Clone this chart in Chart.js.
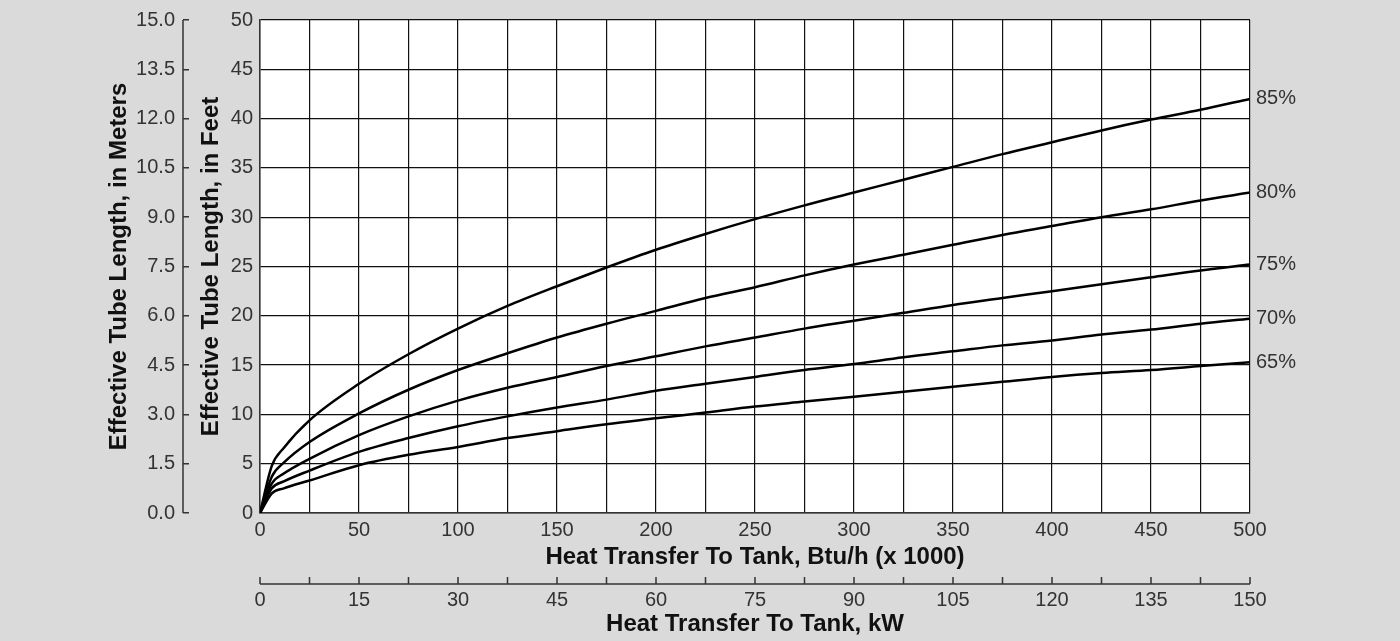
<!DOCTYPE html>
<html lang="en">
<head>
    <title>Effective Tube Length</title>
    <meta charset="utf-8">
    <script src="https://cdn.jsdelivr.net/npm/chart.js@4.4.1/dist/chart.umd.min.js"></script>
    <style>
        html, body { margin: 0; padding: 0; background: #dadada; }
        .chart-container { width: 1400px; height: 641px; }
    </style>
</head>
<body>
<div class="chart-container">
    <canvas id="tubes"></canvas>
</div>
<script>
    // heat transfer to tank, Btu/h (x 1000)
    const btu = [0, 6, 12, 25, 50, 75, 100, 125, 150, 175, 200, 225, 250, 275, 300, 325, 350, 375, 400, 425, 450, 475, 500];

    // effective tube length in feet, one list per efficiency curve
    const eff85 = [0, 4.8, 6.6, 9.4, 13.1, 16.1, 18.7, 21.0, 23.0, 24.9, 26.7, 28.3, 29.8, 31.2, 32.5, 33.8, 35.1, 36.4, 37.6, 38.8, 39.9, 40.9, 42.0];
    const eff80 = [0, 3.7, 5.1, 7.2, 10.1, 12.5, 14.5, 16.2, 17.8, 19.2, 20.5, 21.8, 22.9, 24.1, 25.2, 26.2, 27.2, 28.2, 29.1, 30.0, 30.8, 31.7, 32.5];
    const eff75 = [0, 3.0, 4.0, 5.5, 7.9, 9.8, 11.4, 12.7, 13.8, 14.9, 15.9, 16.9, 17.8, 18.7, 19.5, 20.3, 21.1, 21.8, 22.5, 23.2, 23.9, 24.6, 25.2];
    const eff70 = [0, 2.5, 3.2, 4.3, 6.2, 7.6, 8.8, 9.8, 10.7, 11.5, 12.4, 13.1, 13.8, 14.5, 15.1, 15.8, 16.4, 17.0, 17.5, 18.1, 18.6, 19.2, 19.7];
    const eff65 = [0, 2.0, 2.5, 3.3, 4.85, 5.9, 6.7, 7.6, 8.3, 9.0, 9.6, 10.2, 10.8, 11.3, 11.8, 12.3, 12.8, 13.3, 13.8, 14.2, 14.5, 14.9, 15.3];

    const curveLabels = ['85%', '80%', '75%', '70%', '65%'];
    const curves = [eff85, eff80, eff75, eff70, eff65];

    const fontFamily = "'Liberation Sans', Arial, Helvetica, sans-serif";
    const tickFont = { family: fontFamily, size: 20 };
    const titleFont = { family: fontFamily, size: 24, weight: 'bold' };
    const tickColor = '#333';

    const isMultiple = (v, step) => Math.abs(v / step - Math.round(v / step)) < 1e-6;

    // white plot area behind the grid
    const plotBg = {
        id: 'plotBg',
        beforeDraw(chart) {
            const a = chart.chartArea;
            chart.ctx.save();
            chart.ctx.fillStyle = '#fff';
            chart.ctx.fillRect(a.left, a.top, a.right - a.left, a.bottom - a.top);
            chart.ctx.restore();
        }
    };

    // kW axis line with ticks pointing up, meters axis line left of its ticks, % labels at curve ends
    const extras = {
        id: 'extras',
        afterDraw(chart) {
            const ctx = chart.ctx;
            const kw = chart.scales.x2;
            const m = chart.scales.y2;
            ctx.save();
            ctx.strokeStyle = '#333';
            ctx.lineWidth = 1.5;

            ctx.beginPath();
            ctx.moveTo(kw.left, kw.top);
            ctx.lineTo(kw.right, kw.top);
            kw.ticks.forEach(t => {
                const px = kw.getPixelForValue(t.value);
                ctx.moveTo(px, kw.top);
                ctx.lineTo(px, kw.top - 7);
            });
            ctx.stroke();

            ctx.beginPath();
            ctx.moveTo(m.right - 6, m.getPixelForValue(15));
            ctx.lineTo(m.right - 6, m.getPixelForValue(0));
            ctx.stroke();

            ctx.fillStyle = tickColor;
            ctx.font = '20px ' + fontFamily;
            ctx.textAlign = 'left';
            ctx.textBaseline = 'middle';
            chart.data.datasets.forEach((ds, i) => {
                const pts = chart.getDatasetMeta(i).data;
                const last = pts[pts.length - 1];
                ctx.fillText(ds.label, last.x + 6, last.y);
            });
            ctx.restore();
        }
    };

    const ctx = document.getElementById('tubes').getContext('2d');
    new Chart(ctx, {
        type: 'line',
        data: {
            datasets: curves.map((c, i) => ({
                label: curveLabels[i],
                data: c.map((v, j) => ({ x: btu[j], y: v })),
                borderColor: '#000',
                borderWidth: 2.5,
                pointRadius: 0,
                cubicInterpolationMode: 'monotone',
                fill: false
            }))
        },
        options: {
            responsive: true,
            maintainAspectRatio: false,
            animation: false,
            layout: { padding: { left: 90, right: 150, top: 18, bottom: 0 } },
            plugins: {
                legend: { display: false },
                tooltip: { enabled: false }
            },
            scales: {
                x: {
                    type: 'linear',
                    position: 'bottom',
                    min: 0,
                    max: 500,
                    weight: 0,
                    afterFit: s => { s.height = 71; },
                    ticks: {
                        stepSize: 25,
                        autoSkip: false,
                        maxRotation: 0,
                        padding: 5,
                        color: tickColor,
                        font: tickFont,
                        callback: v => isMultiple(v, 50) ? v : ''
                    },
                    grid: { color: '#111', lineWidth: 1.2, drawTicks: false },
                    border: { color: '#333', width: 1.5 },
                    title: {
                        display: true,
                        text: 'Heat Transfer To Tank, Btu/h (x 1000)',
                        color: '#111',
                        font: titleFont,
                        padding: { top: 0, bottom: 12 }
                    }
                },
                x2: {
                    type: 'linear',
                    position: 'bottom',
                    min: 0,
                    max: 150,
                    weight: 1,
                    afterFit: s => { s.height = 57; },
                    ticks: {
                        stepSize: 7.5,
                        autoSkip: false,
                        maxRotation: 0,
                        padding: 4,
                        color: tickColor,
                        font: tickFont,
                        callback: v => isMultiple(v, 15) ? v : ''
                    },
                    grid: { display: false, drawTicks: false },
                    border: { display: false },
                    title: {
                        display: true,
                        text: 'Heat Transfer To Tank, kW',
                        color: '#111',
                        font: titleFont,
                        padding: { top: 0, bottom: 2 }
                    }
                },
                y: {
                    type: 'linear',
                    position: 'left',
                    min: 0,
                    max: 50,
                    weight: 0,
                    afterFit: s => { s.width = 71; },
                    ticks: {
                        stepSize: 5,
                        padding: 7,
                        color: tickColor,
                        font: tickFont
                    },
                    grid: { color: '#111', lineWidth: 1.2, drawTicks: false },
                    border: { color: '#333', width: 1.5 },
                    title: {
                        display: true,
                        text: 'Effective Tube Length, in Feet',
                        color: '#111',
                        font: titleFont,
                        padding: { top: 8, bottom: 0 }
                    }
                },
                y2: {
                    type: 'linear',
                    position: 'left',
                    min: 0,
                    max: 15,
                    weight: 1,
                    afterFit: s => { s.width = 99; },
                    ticks: {
                        stepSize: 1.5,
                        padding: 8,
                        color: tickColor,
                        font: tickFont,
                        callback: v => v.toFixed(1)
                    },
                    grid: { drawOnChartArea: false, tickLength: 6, color: '#333', lineWidth: 1.5 },
                    border: { display: false },
                    title: {
                        display: true,
                        text: 'Effective Tube Length, in Meters',
                        color: '#111',
                        font: titleFont,
                        padding: { top: 15, bottom: 0 }
                    }
                }
            }
        },
        plugins: [plotBg, extras]
    });
</script>
</body>
</html>
